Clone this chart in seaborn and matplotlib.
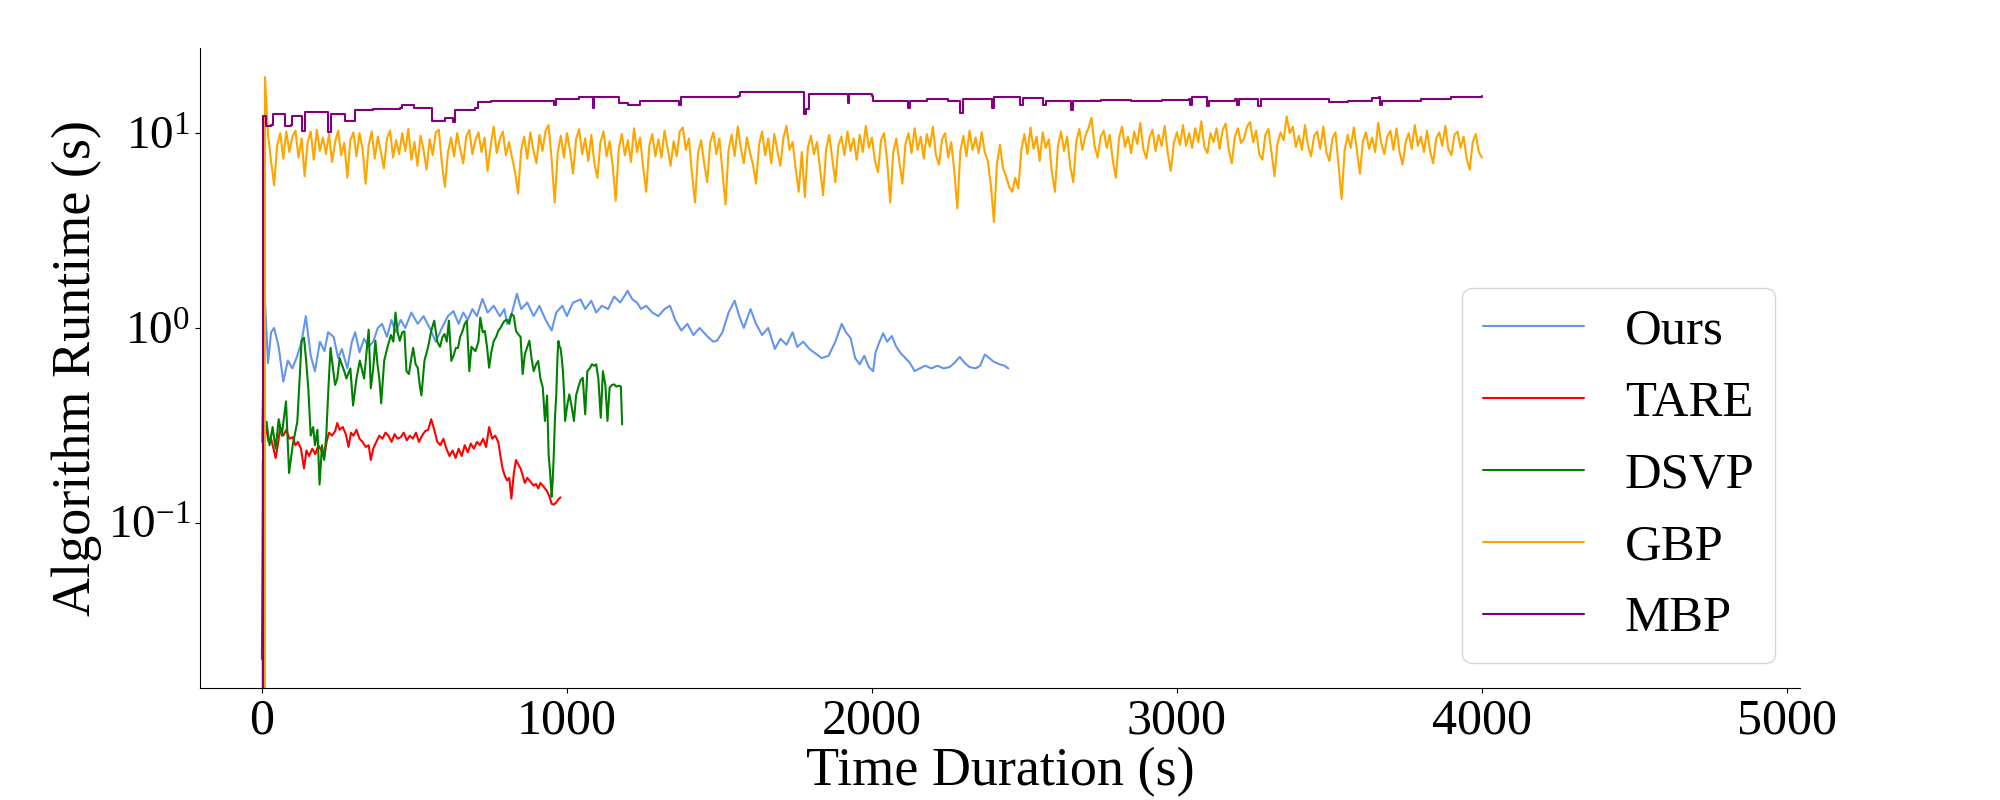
import matplotlib
matplotlib.use("Agg")
import matplotlib.pyplot as plt
from matplotlib.ticker import NullLocator
import seaborn as sns

# ---------------- data ----------------
OURS_T = [0, 10, 20, 30, 40, 55, 70, 85, 100, 116,
          130, 144, 160, 174, 190, 205, 217, 235, 250, 262,
          280, 295, 306, 320, 335, 350, 365, 380, 394, 410,
          425, 438, 455, 470, 490, 511, 530, 550, 570, 590,
          610, 628, 645, 660, 675, 690, 705, 723, 740, 760,
          780, 795, 804, 820, 836, 850, 870, 891, 910, 930,
          950, 965, 985, 1000, 1020, 1045, 1060, 1080, 1096, 1115,
          1135, 1155, 1175, 1199, 1215, 1230, 1243, 1260, 1280, 1300,
          1320, 1338, 1355, 1375, 1395, 1415, 1435, 1462, 1480, 1492,
          1510, 1530, 1550, 1565, 1580, 1602, 1620, 1640, 1660, 1682,
          1700, 1720, 1740, 1755, 1775, 1795, 1815, 1835, 1858, 1880,
          1901, 1915, 1930, 1945, 1960, 1975, 1990, 2004, 2012, 2025,
          2037, 2050, 2065, 2080, 2095, 2110, 2125, 2140, 2157, 2175,
          2195, 2215, 2235, 2255, 2270, 2288, 2305, 2320, 2340, 2355,
          2370, 2385, 2400, 2420, 2435, 2447]
OURS_V = [0.26, 1.38, 0.66, 0.95, 1.0, 0.80, 0.53, 0.68, 0.62, 0.72,
          0.85, 1.15, 0.72, 0.60, 0.85, 0.76, 0.95, 0.90, 0.70, 0.78,
          0.62, 0.85, 0.95, 0.75, 0.88, 0.80, 0.85, 1.0, 1.05, 0.90,
          1.1, 0.95, 1.1, 1.0, 1.2, 1.05, 1.15, 1.0, 0.85, 1.0,
          1.15, 1.22, 1.05, 1.2, 1.1, 1.25, 1.15, 1.41, 1.2, 1.3,
          1.15, 1.25, 1.05, 1.2, 1.5, 1.25, 1.35, 1.15, 1.3, 1.1,
          0.97, 1.2, 1.3, 1.15, 1.35, 1.4, 1.25, 1.38, 1.2, 1.3,
          1.25, 1.45, 1.35, 1.55, 1.4, 1.35, 1.25, 1.3, 1.2, 1.15,
          1.25, 1.3, 1.1, 0.97, 1.05, 0.92, 1.0, 0.90, 0.85, 0.86,
          0.95, 1.2, 1.38, 1.15, 1.0, 1.25, 1.05, 0.92, 1.0, 0.78,
          0.88, 0.82, 0.95, 0.80, 0.85, 0.78, 0.74, 0.70, 0.72, 0.85,
          1.05, 0.95, 0.89, 0.70, 0.65, 0.72, 0.63, 0.60, 0.75, 0.85,
          0.94, 0.85, 0.91, 0.80, 0.74, 0.70, 0.66, 0.60, 0.62, 0.64,
          0.62, 0.64, 0.62, 0.63, 0.66, 0.71, 0.66, 0.63, 0.62, 0.64,
          0.73, 0.70, 0.67, 0.65, 0.64, 0.62]

TARE_T = [0, 3, 8, 15, 22, 30, 38, 45, 52, 60,
          70, 80, 90, 101, 110, 118, 128, 138, 146, 155,
          165, 175, 185, 195, 204, 212, 220, 230, 240, 247,
          255, 265, 275, 284, 292, 300, 310, 320, 330, 340,
          350, 357, 365, 375, 385, 395, 405, 415, 425, 435,
          445, 455, 465, 475, 485, 495, 505, 515, 525, 535,
          545, 555, 565, 575, 585, 595, 605, 615, 625, 635,
          645, 655, 665, 675, 685, 695, 705, 715, 725, 735,
          745, 755, 765, 775, 782, 789, 796, 804, 811, 818,
          826, 833, 840, 848, 855, 862, 870, 877, 884, 891,
          899, 906, 913, 921, 928, 935, 943, 950, 957, 965,
          972, 979]
TARE_V = [0, 0.20, 0.32, 0.30, 0.26, 0.27, 0.24, 0.215, 0.25, 0.31,
          0.28, 0.30, 0.27, 0.275, 0.25, 0.26, 0.24, 0.19, 0.235, 0.22,
          0.24, 0.225, 0.25, 0.235, 0.215, 0.26, 0.29, 0.28, 0.295, 0.325,
          0.30, 0.31, 0.285, 0.245, 0.29, 0.28, 0.30, 0.27, 0.26, 0.245,
          0.25, 0.21, 0.24, 0.26, 0.28, 0.27, 0.29, 0.28, 0.26, 0.285,
          0.27, 0.275, 0.29, 0.265, 0.28, 0.27, 0.29, 0.26, 0.28, 0.295,
          0.30, 0.34, 0.30, 0.26, 0.25, 0.27, 0.24, 0.22, 0.235, 0.215,
          0.24, 0.22, 0.25, 0.23, 0.255, 0.24, 0.26, 0.25, 0.27, 0.245,
          0.31, 0.27, 0.28, 0.26, 0.22, 0.19, 0.175, 0.165, 0.17, 0.133,
          0.18, 0.21, 0.20, 0.19, 0.175, 0.16, 0.17, 0.165, 0.16, 0.155,
          0.158, 0.15, 0.16, 0.155, 0.15, 0.145, 0.136, 0.125, 0.124, 0.127,
          0.132, 0.135]

DSVP_T = [0, 5, 15, 25, 35, 45, 55, 65, 79, 89,
          101, 116, 125, 130, 138, 145, 152, 160, 168, 174,
          182, 189, 197, 204, 211, 218, 225, 233, 240, 247,
          255, 262, 270, 277, 290, 299, 310, 321, 335, 343,
          350, 357, 365, 372, 379, 385, 391, 401, 412, 423,
          431, 438, 445, 452, 460, 467, 474, 482, 490, 496,
          504, 511, 518, 523, 533, 545, 555, 565, 575, 584,
          592, 599, 606, 613, 621, 628, 636, 643, 650, 658,
          665, 672, 680, 687, 700, 710, 716, 724, 731, 738,
          745, 752, 760, 768, 775, 782, 789, 796, 804, 811,
          818, 826, 833, 840, 848, 855, 862, 870, 877, 884,
          891, 899, 906, 913, 921, 928, 935, 940, 945, 950,
          953, 957, 961, 965, 969, 972, 976, 979, 983, 987,
          991, 994, 1001, 1008, 1015, 1023, 1030, 1038, 1045, 1052,
          1060, 1067, 1075, 1082, 1089, 1096, 1103, 1111, 1118, 1126,
          1133, 1140, 1148, 1155, 1162, 1170, 1177, 1181]
DSVP_V = [0.02, 0.27, 0.33, 0.25, 0.31, 0.24, 0.34, 0.28, 0.42, 0.18,
          0.25, 0.33, 0.60, 0.86, 0.89, 0.68, 0.49, 0.28, 0.31, 0.25,
          0.30, 0.157, 0.25, 0.21, 0.28, 0.49, 0.79, 0.62, 0.51, 0.55,
          0.70, 0.65, 0.60, 0.55, 0.62, 0.40, 0.55, 0.68, 0.55, 0.75,
          0.98, 0.49, 0.62, 0.86, 0.65, 0.55, 0.41, 0.68, 0.80, 0.92,
          0.85, 1.2, 0.95, 0.86, 0.95, 0.96, 0.60, 0.58, 0.70, 0.79,
          0.65, 0.625, 0.50, 0.45, 0.68, 0.80, 0.965, 1.09, 0.85, 0.80,
          0.90, 0.93, 0.85, 1.09, 0.677, 0.72, 0.79, 0.79, 0.90, 0.965,
          1.05, 1.09, 0.60, 0.80, 0.76, 0.85, 1.13, 0.95, 0.965, 0.80,
          0.625, 0.75, 0.857, 0.90, 0.965, 1.0, 1.05, 1.09, 1.1, 1.05,
          1.18, 1.15, 0.965, 0.93, 0.90, 0.58, 0.73, 0.80, 0.86, 0.70,
          0.60, 0.65, 0.677, 0.55, 0.494, 0.333, 0.45, 0.224, 0.18, 0.136,
          0.16, 0.224, 0.35, 0.45, 0.70, 0.857, 0.80, 0.79, 0.70, 0.60,
          0.45, 0.333, 0.40, 0.456, 0.40, 0.333, 0.45, 0.50, 0.54, 0.555,
          0.36, 0.60, 0.62, 0.651, 0.64, 0.65, 0.55, 0.346, 0.60, 0.51,
          0.333, 0.494, 0.51, 0.513, 0.50, 0.505, 0.50, 0.32]

# GBP sampled every 10 s after the start spike
GBP_T = [0] + list(range(10, 4001, 10))
GBP_V = [0, 19.4,
         9.8, 7.2, 5.4, 8.6, 10.0, 7.4, 10.2, 8.0, 9.6, 10.3, 7.5, 9.4, 6.0, 9.0, 10.2, 7.3, 10.4, 8.1, 9.5, 7.8,
         9.9, 7.1, 9.0, 10.3, 7.7, 8.9, 5.9, 9.2, 10.1, 7.6, 10.0, 8.3, 5.5, 8.7, 10.2, 7.4, 9.6, 8.0, 6.6, 9.4,
         10.3, 7.5, 9.2, 7.8, 10.0, 8.1, 10.5, 7.3, 9.0, 6.8, 9.7, 8.2, 6.5, 9.3, 7.7, 10.1, 10.4, 7.0, 5.3, 8.0,
         9.5, 7.6, 10.0, 8.3, 7.0, 9.6, 10.4, 7.8, 9.2, 10.1, 8.0, 9.5, 6.4, 8.6, 10.8, 7.9, 9.3, 10.2, 7.7, 9.0,
         7.5, 6.3, 4.9, 8.2, 9.6, 7.4, 10.1, 8.2, 7.0, 9.8, 8.1, 10.3, 11.0, 7.3, 4.4, 8.0, 9.7, 7.5, 10.0, 8.2,
         6.2, 9.3, 10.5, 7.8, 9.4, 7.2, 9.8, 7.0, 5.9, 9.0, 10.2, 7.6, 9.1, 6.8, 4.5, 8.3, 9.9, 7.7, 9.2, 7.1,
         10.6, 8.0, 9.5, 6.7, 5.0, 8.6, 9.9, 7.6, 9.3, 7.5, 10.3, 8.4, 6.8, 9.1, 7.6, 10.2, 10.7, 8.2, 9.4, 6.2,
         4.4, 7.9, 9.2, 7.0, 5.6, 9.0, 10.1, 7.8, 9.4, 6.3, 4.3, 8.2, 9.8, 7.6, 10.8, 8.4, 7.0, 9.5, 8.0, 6.9,
         5.5, 8.7, 10.2, 7.7, 9.4, 7.0, 9.9, 8.1, 6.8, 9.5, 10.9, 8.2, 9.0, 6.6, 5.0, 8.0, 4.7, 8.4, 9.7, 7.8,
         9.0, 6.6, 4.8, 8.3, 9.8, 7.4, 5.6, 8.6, 9.6, 7.7, 10.2, 8.1, 9.4, 7.3, 9.8, 8.0, 10.9, 8.4, 9.5, 7.2,
         6.3, 9.2, 10.0, 7.2, 4.4, 8.0, 9.4, 7.1, 5.5, 8.8, 10.0, 7.9, 10.6, 8.2, 9.6, 7.4, 9.9, 8.5, 10.8, 7.7,
         6.9, 9.3, 10.0, 7.5, 9.0, 6.4, 4.1, 8.1, 9.7, 7.6, 10.3, 8.2, 9.5, 7.9, 10.1, 8.0, 7.2, 5.4, 3.5, 7.0,
         8.7, 6.6, 6.0, 5.3, 5.0, 5.9, 5.2, 8.2, 9.9, 7.8, 10.7, 8.3, 9.6, 7.2, 10.1, 8.4, 9.3, 6.3, 5.0, 8.6,
         10.2, 8.1, 9.6, 6.8, 5.6, 9.0, 10.5, 8.2, 9.7, 10.6, 12.0, 8.6, 7.5, 9.6, 10.3, 8.4, 9.8, 7.2, 5.9, 9.4,
         10.8, 8.5, 9.6, 7.9, 10.2, 8.8, 11.3, 8.3, 7.4, 9.5, 10.4, 8.1, 9.8, 8.6, 10.9, 7.9, 6.4, 8.9, 10.1, 8.7,
         11.0, 8.6, 10.0, 8.4, 10.6, 9.0, 11.5, 8.5, 7.9, 10.0, 9.0, 10.6, 8.3, 10.4, 11.2, 8.2, 7.0, 9.6, 10.6, 8.9,
         9.4, 10.8, 11.4, 9.0, 10.3, 7.8, 7.3, 9.8, 10.5, 8.0, 6.0, 8.9, 10.1, 9.2, 12.2, 10.0, 10.8, 8.5, 9.7, 8.2,
         11.0, 8.6, 7.6, 9.7, 10.2, 8.3, 10.8, 8.0, 7.2, 9.4, 10.1, 6.8, 4.6, 8.2, 9.8, 8.4, 10.7, 8.2, 6.2, 9.1,
         10.1, 8.3, 9.5, 8.0, 11.3, 8.9, 7.8, 9.6, 10.3, 8.2, 10.6, 8.0, 6.9, 9.0, 10.0, 8.3, 11.0, 8.6, 9.6, 8.0,
         10.3, 8.1, 7.0, 9.4, 10.1, 8.6, 10.9, 8.3, 7.7, 9.8, 10.2, 8.4, 9.6, 7.4, 6.5, 9.0, 9.9, 8.0, 7.5]

MBP_T = [0, 3, 12, 15, 30, 35, 72, 75, 95, 100,
         128, 132, 140, 215, 218, 225, 268, 272, 300, 305,
         364, 452, 460, 490, 500, 553, 558, 600, 625, 632,
         700, 710, 745, 752, 840, 950, 957, 965, 1040, 1080,
         1084, 1090, 1165, 1172, 1200, 1240, 1248, 1362, 1367, 1375,
         1560, 1568, 1773, 1778, 1785, 1795, 1915, 1920, 1926, 2000,
         2005, 2112, 2117, 2125, 2180, 2250, 2286, 2290, 2298, 2388,
         2393, 2400, 2482, 2486, 2495, 2558, 2562, 2570, 2647, 2652,
         2660, 2750, 2850, 2950, 3040, 3044, 3050, 3093, 3098, 3105,
         3190, 3196, 3205, 3262, 3267, 3275, 3400, 3500, 3560, 3640,
         3662, 3666, 3672, 3800, 3900, 4000]
MBP_V = [0, 12.3, 12.3, 10.9, 11.0, 12.6, 12.6, 10.9, 11.0, 12.3,
         12.3, 10.3, 12.8, 12.8, 10.1, 12.5, 12.5, 11.6, 11.6, 13.1,
         13.3, 13.4, 13.9, 13.9, 13.4, 13.4, 11.6, 11.9, 11.4, 13.1,
         13.4, 14.4, 14.4, 14.7, 14.7, 14.6, 13.9, 15.0, 15.3, 15.3,
         13.5, 15.3, 15.3, 14.2, 13.9, 14.6, 14.7, 14.7, 13.9, 15.4,
         15.6, 16.2, 16.2, 12.6, 13.3, 15.9, 15.9, 14.2, 15.8, 15.6,
         14.6, 14.6, 13.4, 14.7, 14.9, 14.7, 14.7, 12.7, 15.0, 15.0,
         13.4, 15.3, 15.3, 13.9, 15.1, 15.1, 14.0, 14.6, 14.6, 13.2,
         14.7, 14.8, 14.6, 14.8, 14.9, 13.9, 15.4, 15.4, 13.8, 14.7,
         15.0, 13.9, 14.9, 14.9, 13.8, 15.0, 14.9, 14.5, 14.6, 15.2,
         15.3, 13.9, 14.7, 15.0, 15.3, 15.5]

LABELS = ["Ours", "TARE", "DSVP", "GBP", "MBP"]
COLORS = ["cornflowerblue", "red", "green", "orange", "purple"]
X_TICKS = [0, 1000, 2000, 3000, 4000, 5000]

# ---------------- style ----------------
sns.set_style("ticks")
plt.rcParams["font.family"] = ["Liberation Serif", "DejaVu Serif"]
plt.rcParams["mathtext.fontset"] = "stix"
for k in ["axes.edgecolor", "xtick.color", "ytick.color", "text.color", "axes.labelcolor"]:
    plt.rcParams[k] = "black"

fig = plt.figure(figsize=(20, 8), dpi=100)
ax = fig.add_axes([0.1, 0.14, 0.8, 0.8])

series = [(OURS_T, OURS_V, None), (TARE_T, TARE_V, None), (DSVP_T, DSVP_V, None),
          (GBP_T, GBP_V, None), (MBP_T, MBP_V, "steps-post")]
for (t, v, ds), lab, col in zip(series, LABELS, COLORS):
    assert len(t) == len(v), lab
    kw = {"drawstyle": ds} if ds else {}
    sns.lineplot(x=t, y=v, ax=ax, color=col, label=lab, linewidth=1.5,
                 estimator=None, errorbar=None, sort=False, **kw)

ax.set_yscale("log")
ax.yaxis.set_minor_locator(NullLocator())
ax.set_xticks(X_TICKS)
ax.set_xlim(-203, 5043)
sns.despine(ax=ax)

ax.tick_params(axis="x", labelsize=36)
ax.tick_params(axis="y", labelsize=34)
ax.set_xlabel("Time Duration (s)", fontsize=39, labelpad=2)
ax.set_ylabel("Algorithm Runtime (s)", fontsize=39)
ax.legend(loc="lower right", fontsize=36.5, labelspacing=0.5)

fig.savefig("out.png", dpi=100)
